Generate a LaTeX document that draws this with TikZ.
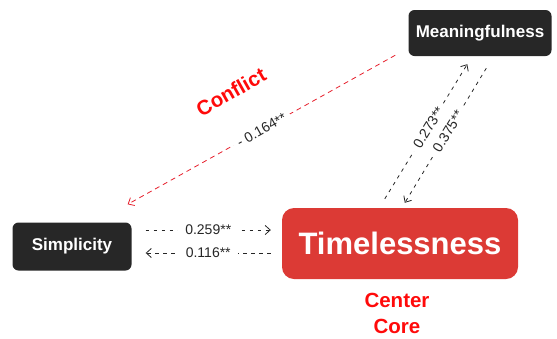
\documentclass[tikz,border=0pt]{standalone}
\usepackage{fontspec}
\setmainfont{Liberation Sans}
\usetikzlibrary{arrows.meta,calc}

\definecolor{boxdark}{HTML}{272727}
\definecolor{boxred}{HTML}{DC3A35}
\definecolor{textred}{HTML}{FF0A0A}
\definecolor{linered}{HTML}{E61E2B}

\tikzset{
  darkbox/.style={fill=boxdark, text=white, rounded corners=6pt, inner sep=0pt,
    font=\fontsize{17}{20}\selectfont\bfseries},
  corebox/.style={fill=boxred, text=white, rounded corners=12pt, inner sep=0pt,
    font=\fontsize{31}{36}\selectfont\bfseries},
  redword/.style={text=textred, font=\fontsize{20.5}{26}\selectfont\bfseries, align=center},
  link/.style={draw=black!85, line width=0.8pt, dash pattern=on 3.5pt off 4.5pt,
    -{Straight Barb[length=5pt,width=9pt]}},
  conflictlink/.style={link, draw=linered, dash pattern=on 5pt off 4pt},
  coef/.style={fill=white, inner xsep=7pt, inner ysep=0.5pt, text=black!85,
    font=\fontsize{14}{16}\selectfont}
}

\begin{document}
\begin{tikzpicture}[x=1pt,y=-1pt]
  \useasboundingbox (0,0) rectangle (557,338);

  % constructs
  \node[darkbox, minimum width=143pt, minimum height=46pt] (mean) at (480,33) {Meaningfulness};
  \node[darkbox, minimum width=119pt, minimum height=48pt] (simp) at (72,246.5) {Simplicity};
  \node[corebox, minimum width=236pt, minimum height=71pt] (time) at (400,243.5) {Timelessness};
  \node[redword] (core) at (397,313) {Center\\Core};

  % end points of the paths, placed relative to the boxes
  \coordinate (mRed)  at ($(mean.south west)+(-13,-1)$);
  \coordinate (sRed)  at ($(simp.north east)+(-4,-18)$);
  \coordinate (tUp)   at ($(time.north west)+(103,-9)$);
  \coordinate (mUp)   at ($(mean.south west)+(59,8)$);
  \coordinate (mDown) at ($(mean.south west)+(78,12)$);
  \coordinate (tDown) at ($(time.north west)+(123,-5)$);
  \coordinate (sR1) at ($(simp.east)+(14,-16.5)$);
  \coordinate (tL1) at ($(time.west)+(-11,-13.5)$);
  \coordinate (tL2) at ($(time.west)+(-11,9.5)$);
  \coordinate (sR2) at ($(simp.east)+(14,6.5)$);

  % conflicting path
  \draw[conflictlink] (mRed) -- node[coef, sloped, inner xsep=5pt] (cRed) {- 0.164**} (sRed);
  \node[redword, rotate=29.5] (conf) at (231,92) {Conflict};

  % paths between meaningfulness and timelessness
  \draw[link] (tUp) -- node[coef, sloped, pos=0.53, inner xsep=5pt] (c273) {0.273**} (mUp);
  \draw[link] (mDown) -- node[coef, sloped, pos=0.47, inner xsep=5pt] (c375) {0.375**} (tDown);

  % paths between simplicity and timelessness
  \draw[link] (sR1) -- node[coef] (c259) {0.259**} (tL1);
  \draw[link] (tL2) -- node[coef] (c116) {0.116**} (sR2);
\end{tikzpicture}
\end{document}
